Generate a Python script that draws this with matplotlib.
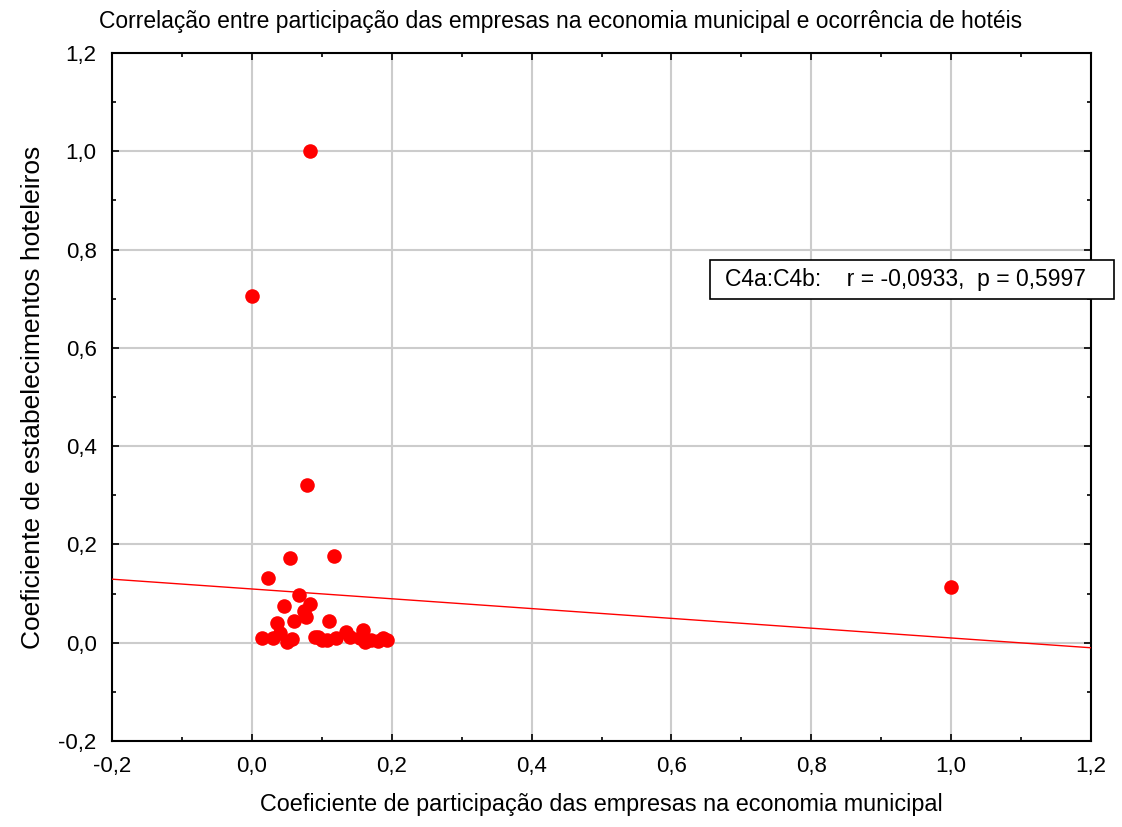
import matplotlib.pyplot as plt
from matplotlib.ticker import MultipleLocator, FuncFormatter
from matplotlib.patches import Rectangle
import numpy as np

plt.rcParams['font.family'] = ['Liberation Sans Narrow', 'Liberation Sans', 'DejaVu Sans']

# participacao das empresas (x) e estabelecimentos hoteleiros (y)
part = [0.083, 0.000, 0.079, 0.054, 0.117, 0.023, 1.000, 0.068, 0.046, 0.083,
        0.078, 0.036, 0.110, 0.014, 0.050, 0.040, 0.090, 0.121, 0.135, 0.159,
        0.162, 0.188, 0.193, 0.107, 0.060, 0.075, 0.095, 0.155, 0.180,
        0.030, 0.058, 0.100, 0.140, 0.170]
hot = [1.000, 0.705, 0.321, 0.172, 0.176, 0.132, 0.113, 0.097, 0.075, 0.079,
       0.053, 0.041, 0.045, 0.009, 0.002, 0.020, 0.012, 0.010, 0.022, 0.026,
       0.002, 0.009, 0.005, 0.005, 0.045, 0.065, 0.012, 0.010, 0.004,
       0.010, 0.008, 0.005, 0.012, 0.006]

legend_txt = "C4a:C4b:    r = -0,0933,  p = 0,5997"

fig = plt.figure(figsize=(11.22, 8.27), dpi=100)
ax = fig.add_axes([0.0998, 0.104, 0.8726, 0.832])

x = np.array(part)
y = np.array(hot)
b, a = np.polyfit(x, y, 1)
xl = np.array([-0.2, 1.2])
ax.plot(xl, a + b * xl, color="red", lw=1.0, zorder=3)

ax.scatter(x, y, s=110, color="red", zorder=4, linewidths=0)

ax.set_xlim(-0.2, 1.2)
ax.set_ylim(-0.2, 1.2)
ax.xaxis.set_major_locator(MultipleLocator(0.2))
ax.yaxis.set_major_locator(MultipleLocator(0.2))
ax.xaxis.set_minor_locator(MultipleLocator(0.1))
ax.yaxis.set_minor_locator(MultipleLocator(0.1))
fmt = FuncFormatter(lambda v, p: ("%.1f" % v).replace(".", ","))
ax.xaxis.set_major_formatter(fmt)
ax.yaxis.set_major_formatter(fmt)
ax.tick_params(which="both", direction="in", top=True, right=True, labelsize=16, color="black")
ax.tick_params(which="major", length=5, width=1.2, pad=11)
ax.tick_params(which="minor", length=3, width=1.2)
ax.grid(True, which="major", color="#cccccc", lw=1.5)
ax.set_axisbelow(True)
for s in ax.spines.values():
    s.set_linewidth(1.5)

ax.set_xlabel("Coeficiente de participação das empresas na economia municipal", fontsize=16.8, labelpad=11)
ax.set_ylabel("Coeficiente de estabelecimentos hoteleiros", fontsize=19, labelpad=10)
fig.text(0.5, 0.974, "Correlação entre participação das empresas na economia municipal e ocorrência de hotéis",
         ha="center", va="center", fontsize=16.5)

# caixa da correlacao, passa por cima da borda direita
fig.patches.append(Rectangle((0.6328, 0.6385), 0.36, 0.0472, transform=fig.transFigure,
                             fc="white", ec="black", lw=1.2, zorder=5))
fig.text(0.646, 0.662, legend_txt, fontsize=16.5, ha="left", va="center", zorder=6)

fig.savefig("out.png", dpi=100)
